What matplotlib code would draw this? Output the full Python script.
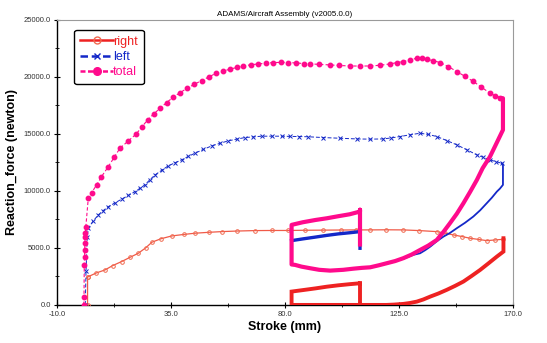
import matplotlib

matplotlib.use("Agg")
import matplotlib.pyplot as plt  # noqa: E402
from matplotlib.lines import Line2D  # noqa: E402

plt.rcParams["font.family"] = ["Liberation Sans", "DejaVu Sans"]

RED = "#ee2222"
BLUE = "#1428c8"
PINK = "#ff0a8c"

X_TICKS = [-10.0, 35.0, 80.0, 125.0, 170.0]
Y_TICKS = [0.0, 5000.0, 10000.0, 15000.0, 20000.0, 25000.0]

# (stroke mm, force N); "_down" = compression sweep, "_back" = rebound loop
total_down = [
    (0.6, 0), (0.7, 700), (0.8, 3500), (0.9, 4200), (1.0, 4800), (1.0, 5400), (1.1, 6000),
    (1.2, 6300), (1.4, 6800), (2.4, 9400), (3.7, 9850), (5.7, 10530), (7.6, 11250),
    (10.3, 12130), (12.6, 12950), (14.9, 13750), (18.0, 14350), (21.2, 14970), (23.5, 15600),
    (25.8, 16230), (28.2, 16750), (30.7, 17250), (33.3, 17750), (35.9, 18220), (38.6, 18620),
    (41.4, 19000), (44.2, 19350), (47.1, 19680), (50.0, 20000), (52.8, 20320), (55.5, 20500),
    (58.3, 20680), (61.0, 20830), (63.5, 20960), (66.5, 21060), (69.5, 21140), (72.5, 21200),
    (75.4, 21260), (78.3, 21270), (81.3, 21260), (84.5, 21220), (87.5, 21170), (90.0, 21140),
    (93.5, 21100), (97.8, 21050), (101.5, 21000), (105.7, 20960), (109.5, 20950),
    (113.6, 20960), (117.5, 21020), (121.5, 21140), (124.0, 21250), (126.7, 21350),
    (129.5, 21500), (132.0, 21640), (134.0, 21680), (135.9, 21550), (138.5, 21420),
    (141.2, 21260), (144.5, 20900), (147.8, 20470), (151.0, 20050), (154.3, 19600),
    (157.5, 19100), (160.9, 18570), (163.0, 18350), (164.9, 18130),
]
total_back = [
    (164.9, 18130), (166.0, 18130), (166.0, 15350), (163.5, 14200), (160.9, 13010),
    (158.0, 12000), (155.7, 10960), (153.0, 9900), (150.4, 8920), (147.8, 8000),
    (145.1, 7170), (142.5, 6400), (139.9, 5700), (136.5, 5200), (133.3, 4820), (130.0, 4420),
    (126.7, 4100), (123.5, 3850), (120.2, 3660), (116.9, 3470), (113.6, 3300), (110.3, 3250),
    (107.0, 3180), (103.0, 3080), (97.8, 3010), (93.5, 3080), (89.9, 3220), (86.5, 3360),
    (84.0, 3510), (82.6, 3550), (82.6, 7020), (87.0, 7250), (92.0, 7450), (96.5, 7600),
    (101.0, 7780), (105.5, 7950), (109.6, 8190), (109.6, 8350), (109.6, 5300),
]

left_down = [
    (1.2, 0), (1.5, 3000), (2.0, 6000), (2.4, 6730), (4.3, 7350), (6.3, 7890), (8.3, 8280),
    (10.3, 8620), (12.9, 8950), (15.5, 9270), (18.2, 9600), (20.8, 9940), (22.8, 10230),
    (24.7, 10530), (26.7, 10980), (28.7, 11400), (31.3, 11800), (33.9, 12190), (36.5, 12460),
    (39.2, 12720), (41.8, 13020), (44.5, 13310), (47.8, 13640), (51.1, 13950), (54.4, 14180),
    (57.6, 14390), (60.9, 14540), (64.2, 14680), (67.5, 14740), (70.8, 14800), (74.8, 14800),
    (78.7, 14800), (82.0, 14780), (85.5, 14770), (89.0, 14750), (95.1, 14680), (101.7, 14620),
    (108.3, 14560), (113.5, 14540), (118.8, 14560), (122.0, 14650), (125.4, 14770),
    (129.3, 14920), (133.3, 15060), (136.6, 14950), (139.9, 14770), (143.8, 14420),
    (147.8, 14040), (151.8, 13600), (155.7, 13160), (158.3, 12940), (160.9, 12720),
    (163.2, 12570), (165.5, 12430),
]
left_back = [
    (165.5, 12430), (166.0, 12300), (166.0, 10530), (164.8, 10200), (163.6, 9940),
    (161.6, 9400), (159.6, 8920), (157.0, 8300), (154.3, 7750), (151.0, 7200), (147.8, 6730),
    (145.0, 6300), (142.5, 5990), (140.0, 5600), (137.3, 5110), (135.3, 4800), (133.3, 4530),
    (130.6, 4390), (126.7, 4050), (120.2, 3640), (113.6, 3290), (107.0, 3180), (97.8, 3010),
    (89.9, 3220), (84.0, 3500), (82.6, 3540), (82.6, 5640), (87.0, 5790), (92.0, 5950),
    (96.5, 6100), (101.0, 6230), (105.5, 6330), (109.6, 6430), (109.6, 6580), (109.6, 4970),
]

right_down = [
    (1.6, 0), (2.1, 0), (2.1, 2450), (2.4, 2480), (5.5, 2800), (9.0, 3070), (12.0, 3450),
    (15.5, 3800), (18.8, 4170), (22.1, 4530), (25.0, 5000), (27.5, 5500), (31.0, 5800),
    (35.3, 6050), (40.0, 6180), (44.5, 6290), (50.0, 6370), (55.0, 6430), (61.0, 6480),
    (68.2, 6520), (75.0, 6530), (81.3, 6530), (88.0, 6550), (95.0, 6560), (102.0, 6570),
    (108.0, 6580), (113.6, 6580), (120.0, 6590), (126.7, 6580), (133.0, 6520), (139.9, 6430),
    (143.0, 6300), (146.5, 6140), (150.0, 5990), (153.0, 5850), (156.5, 5740), (159.6, 5640),
    (163.0, 5700), (166.2, 5760),
]
right_back = [
    (166.2, 5850), (166.2, 4680), (163.6, 4240), (160.3, 3650), (157.0, 3070), (153.7, 2550),
    (150.4, 2050), (147.1, 1670), (143.8, 1320), (140.5, 1000), (137.3, 730), (134.6, 480),
    (132.0, 290), (129.3, 170), (126.7, 90), (123.0, 30), (120.0, 0), (110.0, 0), (100.0, 0),
    (90.0, 0), (82.6, 0), (82.6, 1170), (87.0, 1300), (92.0, 1450), (96.5, 1600),
    (101.0, 1720), (105.5, 1820), (109.6, 1900), (109.6, 2050), (109.6, 0),
]


def xy(points):
    return [p[0] for p in points], [p[1] for p in points]


def main():
    fig = plt.figure(figsize=(5.47, 3.43), dpi=100)
    ax = fig.add_axes([0.104, 0.111, 0.834, 0.831])

    # right wheel
    x, y = xy(right_down)
    ax.plot(x, y, color="#f05a48", lw=0.9, marker="o", ms=2.6, mfc="none", mec="#f06a50",
            mew=0.7, zorder=3)
    x, y = xy(right_back)
    ax.plot(x, y, color=RED, lw=2.8, solid_joinstyle="miter", zorder=3)

    # left wheel
    x, y = xy(left_down)
    ax.plot(x, y, color=BLUE, lw=0.7, ls=(0, (4, 2)), marker="x", ms=2.2, mew=0.7, zorder=4)
    x, y = xy(left_back)
    ax.plot(x, y, color=BLUE, lw=1.3, zorder=4)
    ax.plot(x[-9:], y[-9:], color=BLUE, lw=2.4, zorder=4)

    # total
    x, y = xy(total_down)
    ax.plot(x, y, color=PINK, lw=0.8, ls=(0, (3, 2)), marker="o", ms=3.2, zorder=5)
    x, y = xy(total_back)
    ax.plot(x, y, color=PINK, lw=3.0, zorder=5)

    ax.set_xlim(X_TICKS[0], X_TICKS[-1])
    ax.set_ylim(Y_TICKS[0], Y_TICKS[-1])
    ax.set_xticks(X_TICKS)
    ax.set_xticklabels([f"{v:.1f}" for v in X_TICKS])
    ax.set_yticks(Y_TICKS)
    ax.set_yticklabels([f"{v:.1f}" for v in Y_TICKS])
    ax.set_xticks([12.5, 57.5, 102.5, 147.5], minor=True)
    ax.set_yticks([2500, 7500, 12500, 17500, 22500], minor=True)
    ax.tick_params(which="major", direction="inout", length=5, width=0.8, labelsize=5.5,
                   labelcolor="#333333", pad=2)
    ax.tick_params(which="minor", direction="inout", length=3, width=0.6)
    ax.tick_params(axis="both", top=False, right=False)
    for side in ("top", "right"):
        ax.spines[side].set_color("#9a9a9a")
        ax.spines[side].set_linewidth(0.8)
    for side in ("left", "bottom"):
        ax.spines[side].set_linewidth(1.0)

    ax.set_title("ADAMS/Aircraft Assembly (v2005.0.0)", fontsize=5.8, pad=3)
    ax.set_xlabel("Stroke (mm)", fontsize=9, fontweight="bold", labelpad=2)
    ax.set_ylabel("Reaction_force (newton)", fontsize=9, fontweight="bold", labelpad=4)

    handles = [
        Line2D([], [], color=RED, lw=1.8, marker="o", ms=5, mfc="none", mec="#f06a50",
               markevery=[0]),
        Line2D([], [], color=BLUE, lw=1.8, ls=(0, (3, 1.5)), marker="x", ms=4, markevery=[0]),
        Line2D([], [], color=PINK, lw=1.8, ls=(0, (2, 1)), marker="o", ms=5.5, markevery=[0]),
    ]
    leg = ax.legend(handles, ["right", "left", "total"], loc="upper left",
                    bbox_to_anchor=(0.024, 0.988), fontsize=9, handlelength=2.6,
                    handletextpad=0.0, labelspacing=0.25, borderpad=0.5, fancybox=True,
                    framealpha=1, edgecolor="black")
    leg.get_frame().set_linewidth(1.0)
    for text, color in zip(leg.get_texts(), [RED, BLUE, PINK]):
        text.set_color(color)

    fig.savefig("out.png", dpi=100)


if __name__ == "__main__":
    main()
